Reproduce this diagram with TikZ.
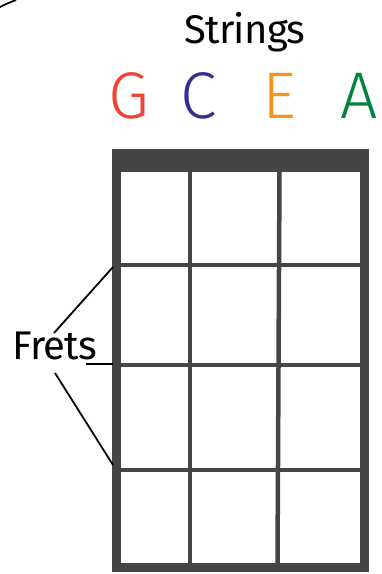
\documentclass[tikz,border=0pt]{standalone}
\usepackage{fontspec}
\setmainfont{Fira Sans}
\newfontfamily\lightf{Fira Sans}[UprightFont=* Light]
\definecolor{frame}{HTML}{454545}
\definecolor{gred}{HTML}{EE4433}
\definecolor{cblue}{HTML}{2E3192}
\definecolor{eorange}{HTML}{F7941E}
\definecolor{agreen}{HTML}{00843D}
\begin{document}
\begin{tikzpicture}[x=1pt,y=-1pt,
  lbl/.style={anchor=base,inner sep=0pt,font=\fontsize{40}{40}\selectfont\addfontfeature{LetterSpace=-2}},
  big/.style={anchor=base,inner sep=0pt,font=\lightf\fontsize{66}{66}\selectfont},
  wire/.style={draw=frame,line width=4.5pt},
  lead/.style={draw=black,line width=1.8pt}]
\useasboundingbox (0,0) rectangle (382,574);
% frame
\fill[frame] (112,149) rectangle (369,572);
\fill[white] (121,172) rectangle (360,563);
\draw[wire] (121,265) -- (360,265);
\draw[wire] (121,365) -- (360,365);
\draw[wire] (121,470) -- (360,470);
\draw[wire] (190,172) -- (190,563);
\draw[wire] (279.5,172) -- (277.5,563);
% labels
\node[lbl] (strings) at (245,43) {Strings};
\node[big,text=gred] (g) at (129,118) {G};
\node[big,text=cblue] (c) at (198.5,118) {C};
\node[big,text=eorange] (e) at (279,118) {E};
\node[big,text=agreen] (a) at (359,118) {A};
\node[lbl] (frets) at (55,359) {Frets};
\coordinate (f1) at (113,267);
\coordinate (f2) at (113,364);
\coordinate (f3) at (113,465);
\coordinate (u0) at (86,364);
\coordinate (l1) at (54,333);
\coordinate (l3) at (55,373);
\draw[lead] (l1) -- (f1);
\draw[lead] (u0) -- (f2);
\draw[lead] (l3) -- (f3);
\coordinate (cA) at (0,7);
\coordinate (cB) at (16,0);
\draw[lead] (cA) .. controls (6,4) .. (cB);
\end{tikzpicture}
\end{document}
